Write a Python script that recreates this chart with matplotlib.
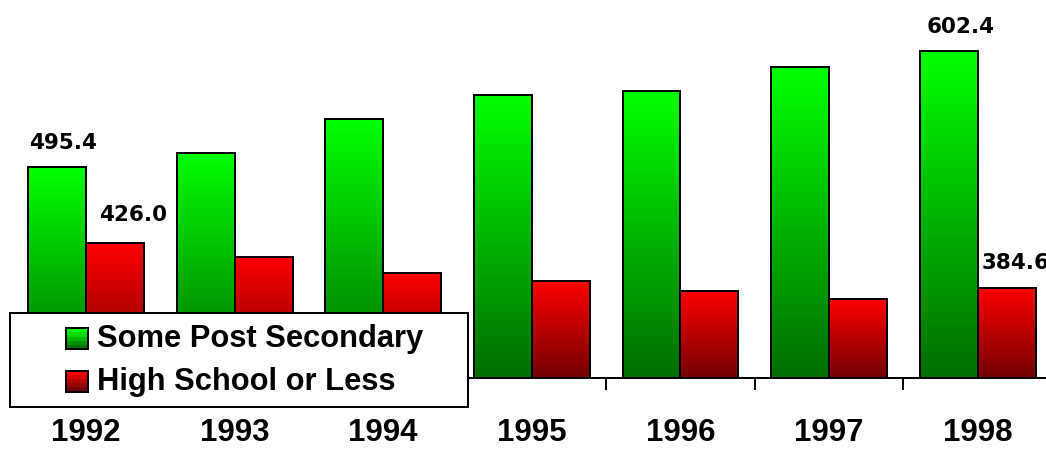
import numpy as np
import matplotlib
matplotlib.use("Agg")
import matplotlib.pyplot as plt
from matplotlib.patches import Rectangle

# ---------------- data ----------------
years = ["1992", "1993", "1994", "1995", "1996", "1997", "1998"]
post_secondary = [495.4, 508.8, 540.0, 562.3, 565.7, 588.0, 602.4]
high_school = [426.0, 413.7, 398.7, 391.7, 382.5, 374.9, 384.6]
series_names = ["Some Post Secondary", "High School or Less"]
# labelled points: (series index, year index, text)
labels = [(0, 0, "495.4"), (1, 0, "426.0"), (0, 6, "602.4"), (1, 6, "384.6")]

# ---------------- style ----------------
W, H, DPI = 1046, 455, 100
Y_MIN = 302.0
Y_MAX = 649.0
BAR_W = 0.39
green_top, green_bot = np.array([0.0, 1.0, 0.0]), np.array([0.0, 0.43, 0.0])
red_top, red_bot = np.array([1.0, 0.0, 0.0]), np.array([0.45, 0.0, 0.0])
LW = 1.44
label_offsets = [(4.3, 13.0), (13.0, 15.8), (8.6, 13.0), (6.5, 13.7)]  # points

fig = plt.figure(figsize=(W / DPI, H / DPI), dpi=DPI)
fig.patch.set_facecolor("white")

def fx(x):
    return x / W

def fy(y):
    return 1 - y / H

ax = fig.add_axes([fx(11.7), fy(378.3), fx(1052) - fx(11.7), 378.3 / H])
ax.set_facecolor("none")

x = np.arange(len(years))

def gradient(n, top, bot):
    t = np.linspace(0, 1, n)[:, None]
    return (top[None, :] * (1 - t) + bot[None, :] * t)[:, None, :]

all_series = [(post_secondary, -BAR_W / 2, green_top, green_bot),
              (high_school, BAR_W / 2, red_top, red_bot)]
for vals, off, ctop, cbot in all_series:
    ax.bar(x + off, np.array(vals) - Y_MIN, bottom=Y_MIN, width=BAR_W,
           facecolor="none", edgecolor="black", linewidth=LW, zorder=3)
    for xi, v in zip(x, vals):
        ax.imshow(gradient(256, ctop, cbot), extent=[xi + off - BAR_W / 2, xi + off + BAR_W / 2, Y_MIN, v],
                  aspect="auto", interpolation="bilinear", zorder=2)

ax.set_xlim(-0.5, len(years) - 0.5)
ax.set_ylim(Y_MIN, Y_MAX)

for s in ["left", "right", "top"]:
    ax.spines[s].set_visible(False)
ax.spines["bottom"].set_linewidth(LW)
ax.spines["bottom"].set_zorder(4)
ax.set_yticks([])

ax.set_xticks(np.arange(len(years) + 1) - 0.5)
ax.set_xticklabels([])
ax.tick_params(axis="x", which="major", direction="out", length=8.6, width=LW)
ax.set_xticks(x, minor=True)
ax.set_xticklabels(years, minor=True, fontfamily="Liberation Sans", fontweight="bold", fontsize=22.5)
ax.tick_params(axis="x", which="minor", length=0, pad=28.5)

series_vals = [post_secondary, high_school]
for (si, yi, txt), (dx, dy) in zip(labels, label_offsets):
    xoff = -BAR_W / 2 if si == 0 else BAR_W / 2
    ax.annotate(txt, xy=(x[yi] + xoff, series_vals[si][yi]), xytext=(dx, dy),
                textcoords="offset points", ha="center", va="baseline",
                fontfamily="DejaVu Sans", fontweight="bold", fontsize=15.5,
                annotation_clip=False, zorder=5)

# ---------------- legend (drawn by hand) ----------------
fig.patches.append(Rectangle((fx(10), fy(406.7)), fx(467.7) - fx(10), (406.7 - 312.7) / H,
                             transform=fig.transFigure, facecolor="white", edgecolor="black",
                             linewidth=LW, zorder=10))
rows = [(328.0, 349.3, green_top, green_bot, 346.7), (370.5, 391.7, red_top, red_bot, 390.3)]
for (top, bot, ctop, cbot, base), name in zip(rows, series_names):
    nb = 5
    for k in range(nb):
        t = k / (nb - 1)
        c = ctop * (1 - t) + cbot * t
        y0 = top + (bot - top) * k / nb
        y1 = top + (bot - top) * (k + 1) / nb
        fig.patches.append(Rectangle((fx(65.7), fy(y1)), fx(88.3) - fx(65.7), (y1 - y0) / H,
                                     transform=fig.transFigure, facecolor=c, edgecolor="none",
                                     zorder=11))
    fig.patches.append(Rectangle((fx(65.7), fy(bot)), fx(88.3) - fx(65.7), (bot - top) / H,
                                 transform=fig.transFigure, facecolor="none", edgecolor="black",
                                 linewidth=LW, zorder=12))
    fig.text(fx(97.0), fy(base), name, ha="left", va="baseline",
             fontfamily="Liberation Sans", fontweight="bold", fontsize=22.2, zorder=13)

fig.savefig("out.png", dpi=DPI, facecolor="white")
